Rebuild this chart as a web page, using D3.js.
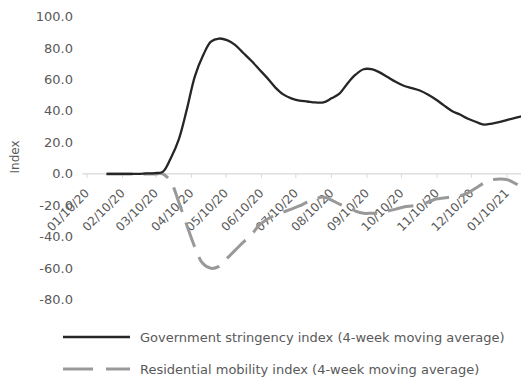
<!DOCTYPE html>
<html>
<head>
<meta charset="utf-8">
<script src="https://cdn.jsdelivr.net/npm/d3@7"></script>
<style>
  body { margin: 0; background: #fff; }
  text { font-family: "DejaVu Sans", sans-serif; fill: #595959; }
</style>
</head>
<body>
<div id="chart"></div>
<script>
var width = 521, height = 377

// weekly points, first 4-week average on 27 Jan 2020
var startDate = new Date(2020, 0, 27)
var stringency = [0, 0, 0, 0, 0, 0.3, 0.5, 1.3, 10, 22, 41, 62, 75, 84, 86, 85, 82, 77, 72, 66.5,
    61, 55, 50.5, 48, 46.6, 46, 45.4, 45.4, 48, 51, 57.5, 63, 66.5, 66.5, 64.5, 61.5, 58.5, 56,
    54.5, 53, 50.5, 47.3, 43.5, 40, 37.7, 35, 33, 31.3, 32, 33, 34.5, 35.8, 37]
var residential = [0, 0, 0, 0, 0, 0, 0, 0, -5, -18, -32.6, -46.6, -57, -60, -58.8, -53.7, -48.6,
    -43.5, -39, -32.6, -28.8, -26.2, -24.3, -22.4, -20.4, -17.9, -16, -14.7, -16.6, -19.2, -21,
    -23.6, -25, -25, -25, -23.6, -22.4, -21, -20.4, -19.8, -17.9, -16, -15.3, -14.7, -14, -12,
    -9, -5.8, -3.8, -3.2, -3.8, -6.4, -9]
var yTicks = [100, 80, 60, 40, 20, 0, -20, -40, -60, -80]
var tickDates = d3.range(13).map(function(m) { return new Date(2020, m, 10) })
var seriesNames = ["Government stringency index (4-week moving average)",
    "Residential mobility index (4-week moving average)"]

var dates = stringency.map(function(d, i) { return d3.timeDay.offset(startDate, 7 * i) })

var svg = d3.select("#chart").append("svg")
    .attr("width", width)
    .attr("height", height)

var x = d3.scaleTime()
    .domain([new Date(2020, 0, 10), new Date(2021, 0, 10)])
    .range([87, 507])
var y = d3.scaleLinear()
    .domain([-80, 100])
    .range([299.8, 16.5])

// y labels (no axis line)
svg.append("g").selectAll("text")
    .data(yTicks)
    .enter().append("text")
    .attr("x", 73)
    .attr("y", function(d) { return y(d) })
    .attr("dy", "0.35em")
    .attr("text-anchor", "end")
    .style("font-size", "13px")
    .text(function(d) { return d.toFixed(1) })

svg.append("text")
    .attr("transform", "translate(19,157) rotate(-90)")
    .attr("text-anchor", "middle")
    .style("font-size", "12px")
    .text("Index")

// zero axis with month ticks
svg.append("line")
    .attr("x1", x(new Date(2020, 0, 6))).attr("x2", width)
    .attr("y1", y(0)).attr("y2", y(0))
    .style("stroke", "#d9d9d9").style("stroke-width", 1.3)
svg.append("g").selectAll("line")
    .data(tickDates)
    .enter().append("line")
    .attr("x1", function(d) { return x(d) }).attr("x2", function(d) { return x(d) })
    .attr("y1", y(0)).attr("y2", y(0) + 4)
    .style("stroke", "#d9d9d9")

var fmt = d3.timeFormat("%m/%d/%y")
svg.append("g").selectAll("text")
    .data(tickDates)
    .enter().append("text")
    .attr("transform", function(d) { return "translate(" + (x(d) + 3) + "," + (y(0) + 20) + ") rotate(-45)" })
    .attr("text-anchor", "end")
    .style("font-size", "12px")
    .text(fmt)

var line = d3.line()
    .x(function(d, i) { return x(dates[i]) })
    .y(function(d) { return y(d) })
    .curve(d3.curveCatmullRom)

svg.append("path")
    .datum(residential)
    .attr("d", line)
    .style("fill", "none")
    .style("stroke", "#999")
    .style("stroke-width", 3)
    .style("stroke-dasharray", "26 11")

svg.append("path")
    .datum(stringency)
    .attr("d", line)
    .style("fill", "none")
    .style("stroke", "#262626")
    .style("stroke-width", 2.3)

// legend
var legend = svg.append("g")
legend.append("line")
    .attr("x1", 63).attr("x2", 130).attr("y1", 337).attr("y2", 337)
    .style("stroke", "#262626").style("stroke-width", 2.3)
legend.append("line")
    .attr("x1", 63).attr("x2", 130).attr("y1", 369).attr("y2", 369)
    .style("stroke", "#999").style("stroke-width", 3)
    .style("stroke-dasharray", "30 13")
legend.selectAll("text")
    .data(seriesNames)
    .enter().append("text")
    .attr("x", 140)
    .attr("y", function(d, i) { return 337 + 32 * i })
    .attr("dy", "0.35em")
    .style("font-size", "13px")
    .text(function(d) { return d })
</script>
</body>
</html>
